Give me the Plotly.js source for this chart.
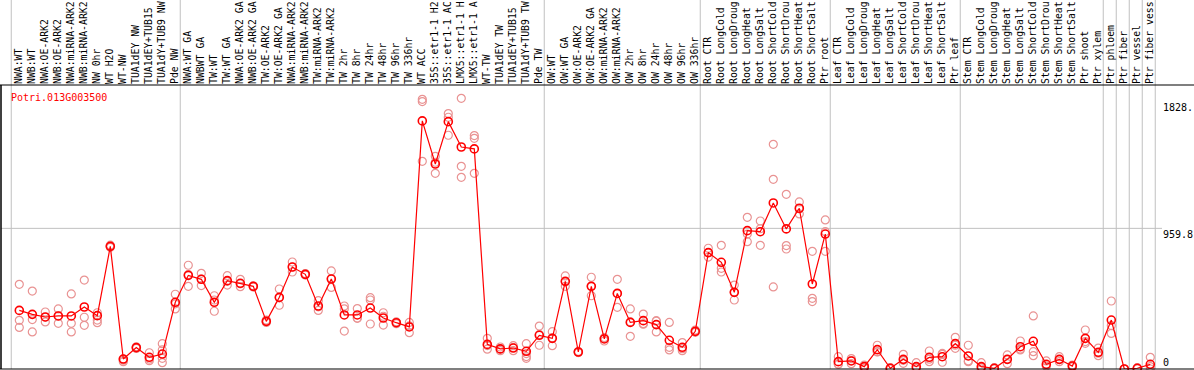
<!DOCTYPE html>
<html>
<head>
<meta charset="utf-8">
<script src="https://cdn.plot.ly/plotly-3.0.1.min.js"></script>
<style>
html,body{margin:0;padding:0;background:#fff;overflow:hidden;}
#chart{width:1194px;height:370px;}
</style>
</head>
<body>
<div id="chart"></div>
<script>
const categories = [
"NWA:WT","NWB:WT","NWA:OE-ARK2","NWB:OE-ARK2","NWA:miRNA-ARK2","NWB:miRNA-ARK2","NW 0hr","WT H2O","WT-NW","TUA1dEY NW",
"TUA1dEY+TUB15","TUA1dY+TUB9 NW","Pde NW","NWA:WT GA","NWBWT GA","TW:WT","TW:WT GA","NWA:OE-ARK2 GA","NWB:OE-ARK2 GA","TW:OE-ARK2",
"TW:OE-ARK2 GA","NWA:miRNA-ARK2","NWB:miRNA-ARK2","TW:miRNA-ARK2","TW:miRNA-ARK2","TW 2hr","TW 8hr","TW 24hr","TW 48hr","TW 96hr",
"TW 336hr","WT ACC","35S::etr1-1 H2","35S::etr1-1 AC","LMX5::etr1-1 H","LMX5::etr1-1 A","WT-TW","TUA1dEY TW","TUA1dEY+TUB15","TUA1dY+TUB9 TW",
"Pde TW","OW:WT","OW:WT GA","OW:OE-ARK2","OW:OE-ARK2 GA","OW:miRNA-ARK2","OW:miRNA-ARK2","OW 2hr","OW 8hr","OW 24hr",
"OW 48hr","OW 96hr","OW 336hr","Root CTR","Root LongCold","Root LongDroug","Root LongHeat","Root LongSalt","Root ShortCold","Root ShortDrou",
"Root ShortHeat","Root ShortSalt","Ptr root","Leaf CTR","Leaf LongCold","Leaf LongDroug","Leaf LongHeat","Leaf LongSalt","Leaf ShortCold","Leaf ShortDrou",
"Leaf ShortHeat","Leaf ShortSalt","Ptr leaf","Stem CTR","Stem LongCold","Stem LongDroug","Stem LongHeat","Stem LongSalt","Stem ShortCold","Stem ShortDrou",
"Stem ShortHeat","Stem ShortSalt","Ptr shoot","Ptr xylem","Ptr phloem","Ptr fiber","Ptr vessel","Ptr fiber vess"
];

const means = [
400,373,355,362,362,423,364,837,68,146,
80,102,455,639,612,455,603,585,564,325,
489,696,646,430,614,369,369,416,348,316,
287,1693,1399,1688,1515,1502,168,137,143,121,
230,209,598,116,564,205,516,318,330,303,
196,148,257,794,728,523,944,937,1133,956,
1097,580,921,50,55,16,132,5,66,16,
80,84,173,89,16,5,66,152,189,32,
66,20,209,114,334,0,5,32
];

const rep1 = [
578,532,389,410,512,607,384,845,68,152,
111,173,510,708,653,500,637,612,568,334,
546,730,651,466,669,430,412,487,384,321,
318,1840,1451,1743,1847,1593,209,150,159,173,
293,255,635,120,626,214,612,410,375,330,
318,180,266,824,844,573,1035,1010,1533,1192,
1140,803,1017,84,71,27,162,9,100,43,
123,106,216,162,43,9,96,191,362,55,
84,27,266,143,464,0,9,80
];

const rep2 = [
332,337,353,362,312,353,334,837,60,146,
68,130,445,645,614,471,598,581,564,323,
486,696,646,424,617,410,348,471,360,318,
294,1825,1411,1718,1383,1574,160,136,146,105,
235,213,595,116,566,209,515,321,309,326,
148,139,255,794,687,525,921,957,1294,842,
1093,482,937,34,58,16,118,5,59,9,
67,100,162,55,9,5,66,136,118,20,
64,20,187,108,296,0,5,16
];

const rep3 = [
284,253,321,312,253,298,316,830,50,140,
57,73,410,564,569,394,573,562,560,318,
435,662,642,400,557,259,346,307,300,309,
248,1417,1335,1595,1308,1335,135,125,125,85,
162,159,564,112,500,191,421,223,306,253,
130,125,250,764,662,471,869,844,560,819,
1058,460,803,32,36,5,116,0,39,2,
50,46,141,50,0,0,36,130,91,20,
50,14,175,91,243,0,0,0
];

const rep4 = new Array(88).fill(null);
rep4[11] = 43;
rep4[39] = 73;

const groupBreaks = [-1, 12, 40, 52, 62, 72, 83, 84, 85, 86, 87];
const gridValue = 959.8;
const yTickVals = [0, 959.8, 1828];
const yTickText = ["0", "959.8", "1828."];
const geneName = "Potri.013G003500";

const idx = categories.map((_, i) => i);
const FONT = "DejaVu Sans Mono, Liberation Mono, monospace";
const repColor = "#e99393";

const repTraces = [rep1, rep2, rep3, rep4].map(r => ({
  type: "scatter", mode: "markers", x: idx, y: r,
  marker: {symbol: "circle-open", size: 8, color: repColor, line: {width: 1.2, color: repColor}},
  cliponaxis: false, hoverinfo: "skip", showlegend: false
}));

const meanTrace = {
  type: "scatter", mode: "lines+markers", x: idx, y: means,
  line: {color: "#ff0000", width: 1.2},
  marker: {symbol: "circle-open", size: 8, color: "#ff0000", line: {width: 1.6, color: "#ff0000"}},
  cliponaxis: false, showlegend: false
};

const plotW = 1194 - 1 - 34;
const plotH = 370 - 85 - 1;

const shapes = [];
groupBreaks.forEach(b => {
  shapes.push({type: "line", xref: "x", yref: "paper", x0: b + 0.38, x1: b + 0.38, y0: 0, y1: 1.32,
    line: {color: "#c0c0c0", width: 1}, layer: "below"});
});
shapes.push({type: "line", xref: "paper", yref: "y", x0: 0, x1: (1162 - 1) / plotW, y0: gridValue, y1: gridValue,
  line: {color: "#c0c0c0", width: 1}, layer: "below"});
shapes.push({type: "line", xref: "paper", yref: "paper", x0: -1 / plotW, x1: 1194 / plotW, y0: 1, y1: 1,
  line: {color: "#000", width: 1.2}});
shapes.push({type: "line", xref: "paper", yref: "paper", x0: -1 / plotW, x1: 1194 / plotW, y0: 0, y1: 0,
  line: {color: "#000", width: 1.2}});
shapes.push({type: "line", xref: "paper", yref: "paper", x0: 0, x1: 0, y0: 0, y1: 1,
  line: {color: "#000", width: 1.5}});

const annotations = [{
  text: geneName, xref: "paper", yref: "paper", x: 8 / plotW, y: (369 - 97) / plotH,
  xanchor: "left", yanchor: "middle", showarrow: false,
  font: {family: FONT, size: 10, color: "#ff0000"}
}];
yTickVals.forEach((v, k) => {
  annotations.push({
    text: yTickText[k], xref: "paper", yref: "y", x: (1162 - 1) / plotW, y: v,
    xanchor: "left", yanchor: v === 0 ? "bottom" : "top", showarrow: false, borderpad: 0,
    font: {family: FONT, size: 10, color: "#000"}
  });
});

const layout = {
  width: 1194, height: 370,
  margin: {l: 1, r: 34, t: 85, b: 1, pad: 0},
  paper_bgcolor: "#fff", plot_bgcolor: "#fff",
  showlegend: false,
  xaxis: {
    range: [-1.408, 87.746], tickmode: "array", tickvals: idx, ticktext: categories,
    side: "top", tickangle: -90, showgrid: false, zeroline: false, showline: false,
    ticks: "", automargin: false, fixedrange: true,
    tickfont: {family: FONT, size: 9.8, color: "#000"}
  },
  yaxis: {
    range: [0, 1938], showticklabels: false, showgrid: false, zeroline: false,
    showline: false, ticks: "", fixedrange: true
  },
  shapes: shapes,
  annotations: annotations
};

Plotly.newPlot("chart", [...repTraces, meanTrace], layout, {displayModeBar: false, staticPlot: true});
</script>
</body>
</html>
